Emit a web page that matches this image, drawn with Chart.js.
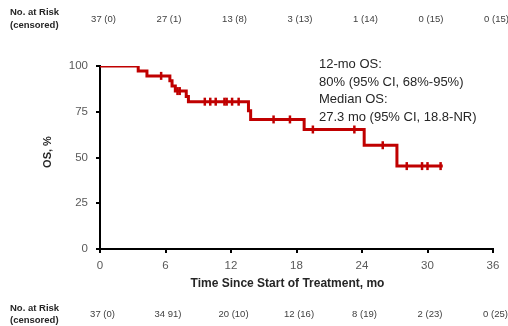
<!DOCTYPE html>
<html>
<head>
<meta charset="utf-8">
<script src="https://cdn.jsdelivr.net/npm/chart.js@4"></script>
<style>
  html, body { margin: 0; padding: 0; background: #fff; }
  #wrap { width: 508px; height: 326px; }
</style>
</head>
<body>
<div id="wrap"><canvas id="km" width="508" height="326"></canvas></div>
<script>
// Kaplan-Meier steps (time in months, OS in %)
const kmTimes = [0, 3.5, 4.3, 6.4, 6.6, 6.9, 7.9, 8.1, 13.6, 13.8, 18.7, 24.2, 27.2, 31.4];
const kmSurvival = [100, 97.3, 94.6, 91.9, 89.1, 86.3, 83.4, 80.5, 75.6, 70.8, 65.3, 56.7, 45.3, 45.3];

// censored patients
const censorTimes = [5.6, 7.1, 7.3, 9.6, 10.1, 10.6, 11.4, 11.6, 12.1, 12.7, 15.9, 17.4, 19.5, 23.3, 25.9, 28.1, 29.5, 30.0, 31.2];
const censorLevels = [94.6, 86.3, 86.3, 80.5, 80.5, 80.5, 80.5, 80.5, 80.5, 80.5, 70.8, 70.8, 65.3, 65.3, 56.7, 45.3, 45.3, 45.3, 45.3];

// number at risk tables
const riskTimes = [0, 6, 12, 18, 24, 30, 36];
const riskTop = ['37 (0)', '27 (1)', '13 (8)', '3 (13)', '1 (14)', '0 (15)', '0 (15)'];
const riskBottom = ['37 (0)', '34 91)', '20 (10)', '12 (16)', '8 (19)', '2 (23)', '0 (25)'];

const noteLines = ['12-mo OS:', '80% (95% CI, 68%-95%)', 'Median OS:', '27.3 mo (95% CI, 18.8-NR)'];

const RED = '#C00000';
const FONT = '"Liberation Sans", Arial, sans-serif';

const textPlugin = {
  id: 'kmText',
  afterDraw(chart) {
    const ctx = chart.ctx;
    const x = chart.scales.x;
    ctx.save();

    // at-risk tables
    const table = (rows, y0, yLab1, yLab2, shift) => {
      ctx.fillStyle = '#262626';
      ctx.font = 'bold 9.5px ' + FONT;
      ctx.textAlign = 'left';
      ctx.textBaseline = 'middle';
      ctx.fillText('No. at Risk', 10, yLab1);
      ctx.fillText('(censored)', 10, yLab2);
      ctx.font = '9.5px ' + FONT;
      ctx.fillStyle = '#404040';
      ctx.textAlign = 'center';
      rows.forEach((t, i) => ctx.fillText(t, x.getPixelForValue(riskTimes[i]) + shift, y0));
    };
    table(riskTop, 19, 12.7, 25.7, 3.5);
    table(riskBottom, 314, 308, 320, 2.5);

    // axis titles
    ctx.fillStyle = '#262626';
    ctx.font = 'bold 12px ' + FONT;
    ctx.textAlign = 'center';
    ctx.textBaseline = 'middle';
    ctx.fillText('Time Since Start of Treatment, mo', 287.5, 283.5);
    ctx.save();
    ctx.translate(48, 152);
    ctx.rotate(-Math.PI / 2);
    ctx.font = 'bold 11px ' + FONT;
    ctx.fillText('OS, %', 0, 0);
    ctx.restore();

    // annotation
    ctx.font = '13px ' + FONT;
    ctx.textAlign = 'left';
    ctx.fillStyle = '#262626';
    const ys = [64.5, 82, 99.5, 117];
    noteLines.forEach((t, i) => ctx.fillText(t, 319, ys[i]));

    ctx.restore();
  }
};

new Chart(document.getElementById('km'), {
  type: 'line',
  data: {
    datasets: [{
      data: kmTimes.map((t, i) => ({ x: t, y: kmSurvival[i] })),
      stepped: true,
      borderColor: RED,
      borderWidth: 3,
      pointRadius: 0,
      fill: false
    }, {
      data: censorTimes.map((t, i) => ({ x: t, y: censorLevels[i] })),
      showLine: false,
      pointStyle: 'line',
      rotation: 90,
      pointRadius: 4,
      borderWidth: 2.5,
      borderColor: RED,
      backgroundColor: RED
    }]
  },
  options: {
    responsive: false,
    animation: false,
    layout: { padding: { top: 66, right: 15, left: 0, bottom: 0 } },
    plugins: { legend: { display: false }, tooltip: { enabled: false } },
    scales: {
      x: {
        type: 'linear',
        min: 0, max: 36,
        afterFit: s => { s.height = 77; },
        ticks: { stepSize: 6, color: '#595959', padding: 6, font: { family: FONT, size: 11.5 } },
        grid: { drawOnChartArea: false, tickLength: 4, color: '#000', lineWidth: 2 },
        border: { color: '#000', width: 2 }
      },
      y: {
        min: 0, max: 100,
        afterFit: s => { s.width = 100; },
        ticks: { stepSize: 25, color: '#595959', padding: 8, font: { family: FONT, size: 11.5 } },
        grid: { drawOnChartArea: false, tickLength: 4, color: '#000', lineWidth: 2 },
        border: { color: '#000', width: 2 }
      }
    }
  },
  plugins: [textPlugin]
});
</script>
</body>
</html>
